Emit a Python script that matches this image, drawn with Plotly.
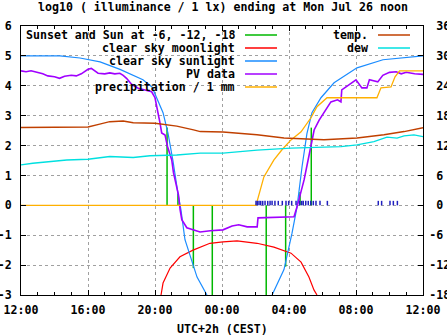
import plotly.graph_objects as go

# ---------------- data (x = hours after 12:00 on the previous day) ----------------
x_tick_vals = [0, 4, 8, 12, 16, 20, 24]
x_tick_text = ["12:00", "16:00", "20:00", "00:00", "04:00", "08:00", "12:00"]
y_tick_vals = [-3, -2, -1, 0, 1, 2, 3, 4, 5, 6]
y2_tick_vals = [-18, -12, -6, 0, 6, 12, 18, 24, 30, 36]

sun_hours = [0.0, 2.33, 3.52, 4.72, 5.91, 7.28, 7.82, 8.48, 8.78, 9.07, 9.37, 9.55, 9.79,
             10.21, 10.51, 11.1, None,
             14.99, 15.7, 16.18, 16.48, 16.78, 17.07, 17.37, 17.91, 18.69, 20.06, 21.61, 23.82, 24.0]
sun_log_lux = [5.0, 5.0, 4.93, 4.8, 4.55, 4.2, 3.96, 3.1, 2.4, 1.5, 0.4, -0.15, -1.15,
               -1.9, -2.4, -3.0, None,
               -3.0, -2.15, -0.93, -0.05, 1.3, 2.4, 3.1, 3.6, 4.1, 4.6, 4.87, 5.0, 5.0]

moon_hours = [8.36, 8.48, 8.9, 9.49, 10.27, 11.28, 12.06, 12.9, 14.09, 15.1, 16.12, 16.72,
              17.19, 17.49, 17.67]
moon_log_lux = [-3.0, -2.6, -2.1, -1.72, -1.5, -1.27, -1.22, -1.19, -1.27, -1.4, -1.6, -1.9,
                -2.4, -2.83, -3.0]

# sunset / sun at -6, -12, -18 (evening), then -18, -12, -6 and sunrise (morning)
sun_event_hours = [8.72, 9.37, 10.29, 11.42, 14.64, 15.8, 16.66, 17.33]
sun_event_levels = [2.6, 0.4, -2.1, -3.0, -3.0, -2.05, 0.45, 2.6]

pv_hours = [0.0, 0.3, 0.6, 1.0, 1.3, 1.6, 2.0, 2.3, 2.6, 3.0, 3.3, 3.6, 4.0, 4.2, 4.4, 4.6,
            5.0, 5.3, 5.6, 5.9, 6.1, 6.3, 6.6, 7.0, 7.4, 7.8, 8.0, 8.2, 8.3, 8.4, 8.6, 8.75,
            9.0, 9.1, 9.2, 9.3, 9.4, 9.5, 9.6, 9.9, 10.27, 10.69, 11.3, 12.06, 12.6, 13.0,
            13.5, 14.1, 14.15, 15.0, 16.3, 16.48, 16.9, 17.3, 17.5, 17.8, 18.1, 18.5, 18.9,
            19.1, 19.15, 19.6, 20.0, 20.35, 20.65, 20.8, 21.3, 21.6, 22.0, 22.4, 22.7, 23.0,
            23.5, 24.0]
pv_log_lux = [4.50, 4.47, 4.50, 4.45, 4.40, 4.33, 4.30, 4.25, 4.32, 4.35, 4.33, 4.40, 4.55,
              4.58, 4.50, 4.42, 4.40, 4.43, 4.40, 4.42, 4.35, 4.25, 4.05, 3.92, 3.86, 3.80,
              3.60, 3.10, 2.75, 2.42, 2.35, 1.96, 1.52, 1.10, 0.85, 0.50, 0.35, -0.15, -0.48,
              -0.75, -0.82, -0.89, -0.85, -0.82, -0.69, -0.65, -0.72, -0.72, -0.42, -0.40,
              -0.38, -0.05, 0.85, 1.96, 2.52, 2.85, 3.13, 3.46, 3.53, 3.46, 3.86, 4.03, 4.20,
              3.93, 3.93, 4.20, 4.13, 4.35, 4.45, 4.47, 4.40, 4.45, 4.40, 4.38]

rain_hours = [0.0, 14.03, 14.5, 15.1, 15.58, 16.12, 16.72, 17.31, 17.67, 18.27, 21.25, 21.49,
              22.09, 22.33, 22.6, 24.0]
rain_log_mm = [0.0, 0.0, 0.95, 1.52, 1.86, 2.19, 2.46, 2.93, 3.3, 3.6, 3.6, 3.93, 3.96, 4.3,
               4.5, 4.5]

rain_tip_hours = [14.03, 14.11, 14.21, 14.31, 14.43, 14.57, 14.73, 14.87, 14.99, 15.16, 15.36,
                  15.6, 15.82, 15.98, 16.16, 16.42, 16.64, 16.76, 16.85, 17.0, 17.15, 17.3,
                  17.45, 17.61, 17.85, 18.29, 21.33, 21.53, 22.03, 22.23, 22.47]
rain_tip_height = 0.15

temp_hours = [0, 2.0, 4.0, 4.7, 5.3, 6.1, 6.7, 8.0, 9.3, 10.3, 10.7, 12.06, 14.09, 15.7,
              18.09, 20.06, 21.67, 22.87, 23.94, 24.0]
temp_c = [15.6, 15.6, 15.75, 16.3, 16.8, 16.95, 16.6, 16.5, 15.9, 15.15, 14.8, 14.7, 14.15,
          13.5, 13.15, 13.5, 14.15, 14.8, 15.6, 15.6]

dew_hours = [0, 0.7, 2.73, 4.0, 5.3, 6.7, 7.7, 9.3, 10.7, 12.06, 14.1, 16.12, 19.1, 20.06,
             21.07, 21.85, 22.45, 22.87, 23.46, 23.94, 24.0]
dew_c = [8.1, 8.45, 9.1, 9.25, 9.8, 9.6, 9.95, 10.1, 10.5, 10.5, 11.1, 11.5, 11.8, 12.15,
         12.8, 13.7, 13.5, 13.95, 14.15, 13.8, 13.8]

left_key = ["Sunset and Sun at -6, -12, -18", "clear sky moonlight", "clear sky sunlight",
            "PV data", "precipitation / 1 mm"]
right_key = ["temp.", "dew"]
title_text = "log10 ( illuminance / 1 lx) ending at Mon Jul 26 noon"
x_title = "UTC+2h (CEST)"

# ---------------- styles ----------------
FONT = "DejaVu Sans Mono"
FS = 11.6
C_GREEN = "#00b800"
C_RED = "#ff0000"
C_BLUE = "#1a8cff"
C_PURPLE = "#a000ff"
C_ORANGE = "#ffb000"
C_TIP = "#2020c0"
C_TEMP = "#c04000"
C_DEW = "#00e0e0"
left_colors = [C_GREEN, C_RED, C_BLUE, C_PURPLE, C_ORANGE]
right_colors = [C_TEMP, C_DEW]

ev_x, ev_y = [], []
for h, v in zip(sun_event_hours, sun_event_levels):
    ev_x += [h, h, None]
    ev_y += [0, v, None]
tip_x, tip_y = [], []
for h in rain_tip_hours:
    tip_x += [h, h, None]
    tip_y += [0, rain_tip_height, None]

fig = go.Figure()
fig.add_trace(go.Scatter(x=ev_x, y=ev_y, mode="lines", line=dict(color=C_GREEN, width=1.5)))
fig.add_trace(go.Scatter(x=moon_hours, y=moon_log_lux, mode="lines",
                         line=dict(color=C_RED, width=1.2)))
fig.add_trace(go.Scatter(x=sun_hours, y=sun_log_lux, mode="lines",
                         line=dict(color=C_BLUE, width=1.2), connectgaps=False))
fig.add_trace(go.Scatter(x=pv_hours, y=pv_log_lux, mode="lines",
                         line=dict(color=C_PURPLE, width=1.6)))
fig.add_trace(go.Scatter(x=rain_hours, y=rain_log_mm, mode="lines",
                         line=dict(color=C_ORANGE, width=1.3)))
fig.add_trace(go.Scatter(x=tip_x, y=tip_y, mode="lines", line=dict(color=C_TIP, width=1.5)))
fig.add_trace(go.Scatter(x=temp_hours, y=temp_c, mode="lines", yaxis="y2",
                         line=dict(color=C_TEMP, width=1.5)))
fig.add_trace(go.Scatter(x=dew_hours, y=dew_c, mode="lines", yaxis="y2",
                         line=dict(color=C_DEW, width=1.3)))

shapes = [
    dict(type="rect", xref="paper", yref="paper", x0=0, x1=0.652, y0=0.747, y1=1,
         fillcolor="white", line=dict(width=0), layer="between"),
    dict(type="rect", xref="paper", yref="paper", x0=0.7687, x1=1, y0=0.896, y1=1,
         fillcolor="white", line=dict(width=0), layer="between"),
]
annotations = []
row_y = [0.9665, 0.9182, 0.8699, 0.8216, 0.7732]
for i, (lab, col) in enumerate(zip(left_key, left_colors)):
    annotations.append(dict(text=lab, xref="paper", yref="paper", x=0.5373, y=row_y[i],
                            xanchor="right", yanchor="middle", showarrow=False,
                            font=dict(family=FONT, size=FS, color="black", weight="bold")))
    shapes.append(dict(type="line", xref="paper", yref="paper", x0=0.5572, x1=0.6368,
                       y0=row_y[i], y1=row_y[i], line=dict(color=col, width=1.3)))
for i, (lab, col) in enumerate(zip(right_key, right_colors)):
    annotations.append(dict(text=lab, xref="paper", yref="paper", x=0.8682, y=row_y[i],
                            xanchor="right", yanchor="middle", showarrow=False,
                            font=dict(family=FONT, size=FS, color="black", weight="bold")))
    shapes.append(dict(type="line", xref="paper", yref="paper", x0=0.8881, x1=0.9677,
                       y0=row_y[i], y1=row_y[i], line=dict(color=col, width=1.3)))

annotations.append(dict(text=title_text, xref="paper", yref="paper", x=0.5025, y=1.0706,
                        yanchor="middle", xanchor="center", showarrow=False,
                        font=dict(family=FONT, size=FS, color="black", weight="bold")))
annotations.append(dict(text=x_title, xref="paper", yref="paper", x=0.5, y=0,
                        yshift=-25, yanchor="top", xanchor="center", showarrow=False,
                        font=dict(family=FONT, size=FS, color="black", weight="bold")))

tickfont = dict(family=FONT, size=FS, color="black", weight="bold")
grid = dict(showgrid=True, gridcolor="#a0a0a0", gridwidth=1, griddash="3px,3px")

fig.update_layout(
    width=447, height=335,
    margin=dict(l=21, r=24, t=26, b=40, autoexpand=False),
    paper_bgcolor="white", plot_bgcolor="white",
    showlegend=False,
    shapes=shapes, annotations=annotations,
    xaxis=dict(range=[0, 24], tickvals=x_tick_vals, ticktext=x_tick_text,
               ticks="inside", ticklen=5, tickcolor="black", mirror="ticks",
               showline=True, linecolor="black", linewidth=1, zeroline=False,
               tickfont=tickfont, ticklabelstandoff=4, automargin=False,
               minor=dict(dtick=1, ticks="inside", ticklen=3, tickcolor="black",
                          showgrid=False),
               **grid),
    yaxis=dict(range=[-3, 6], tickvals=y_tick_vals,
               ticktext=[str(v) if v >= 0 else "-" + str(-v) for v in y_tick_vals],
               ticks="inside", ticklen=5, tickcolor="black",
               showline=True, linecolor="black", linewidth=1, zeroline=False,
               tickfont=tickfont, ticklabelstandoff=6, automargin=False, **grid),
    yaxis2=dict(range=[-18, 36], tickvals=y2_tick_vals,
                ticktext=[("\u00a0" + str(v)) if v >= 0 else "-" + str(-v) for v in y2_tick_vals],
                overlaying="y", side="right", ticks="inside", ticklen=5, tickcolor="black",
                showline=True, linecolor="black", linewidth=1, zeroline=False,
                showgrid=False, tickfont=tickfont, ticklabelstandoff=3, automargin=False),
)

fig.write_html("out.html")
